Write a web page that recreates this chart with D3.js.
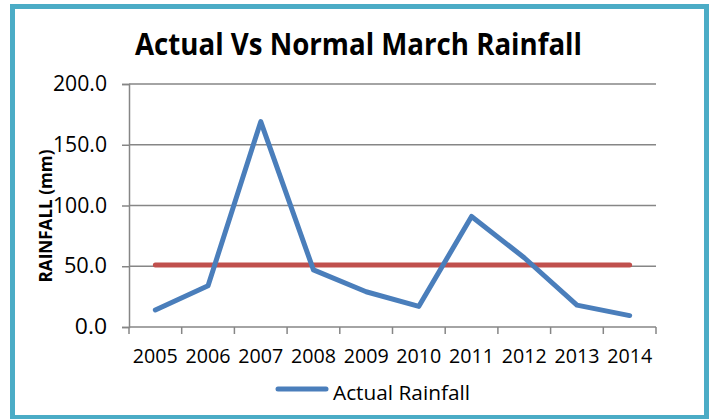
<!DOCTYPE html>
<html>
<head>
<meta charset="utf-8">
<script src="https://cdn.jsdelivr.net/npm/d3@7"></script>
<style>
  html, body { margin: 0; padding: 0; background: #fff; }
  svg { display: block; }
  text { font-family: "Open Sans", "Liberation Sans", sans-serif; fill: #000; }
</style>
</head>
<body>
<svg id="chart" width="712" height="419"></svg>
<script>
const years = ["2005","2006","2007","2008","2009","2010","2011","2012","2013","2014"];
const actualRainfall = [14, 34, 169, 47, 29, 17, 91, 57, 18, 9.4];
const normalRainfall = [51, 51, 51, 51, 51, 51, 51, 51, 51, 51];
const yTicks = [0, 50, 100, 150, 200];
const titleText = "Actual Vs Normal March Rainfall";
const yAxisTitle = "RAINFALL (mm)";
const legendLabel = "Actual Rainfall";

const svg = d3.select("#chart");

// outer border
svg.append("rect")
  .attr("x", 12.5).attr("y", 6.5)
  .attr("width", 694).attr("height", 411)
  .attr("fill", "#fff")
  .attr("stroke", "#4bacc6").attr("stroke-width", 5);

const x = d3.scaleBand().domain(years).range([129, 656]).padding(0);
const y = d3.scaleLinear().domain([0, 200]).range([327, 84]);
const grey = "#868686";

// gridlines
svg.append("g").selectAll("line").data(yTicks.filter(d => d > 0)).join("line")
  .attr("x1", 129).attr("x2", 656)
  .attr("y1", d => y(d)).attr("y2", d => y(d))
  .attr("stroke", grey).attr("stroke-width", 1.5);

// y axis
const yAxis = svg.append("g").attr("transform", "translate(129,0)")
  .call(d3.axisLeft(y).tickValues(yTicks).tickSize(7).tickPadding(15).tickFormat(d3.format(".1f")));
yAxis.selectAll("path.domain").attr("stroke", grey).attr("stroke-width", 1.5);
yAxis.selectAll(".tick line").attr("stroke", grey).attr("stroke-width", 1.5);
yAxis.selectAll(".tick text").attr("font-size", 21).attr("font-family", "Open Sans").attr("fill", "#000");
// match label widths to reference (≈10.8px per digit)
yAxis.selectAll(".tick text").each(function () {
  const t = d3.select(this);
  const s = t.text();
  const digits = s.replace(".", "").length;
  t.attr("textLength", digits * 10.9 + 10.4).attr("lengthAdjust", "spacingAndGlyphs");
});

// x axis
const xAxis = svg.append("g").attr("transform", "translate(0,327)")
  .call(d3.axisBottom(x).tickSize(0).tickPadding(22));
xAxis.select("path.domain").remove();
xAxis.selectAll(".tick line").remove();
xAxis.selectAll(".tick text").attr("font-size", 20).attr("font-family", "Open Sans").attr("fill", "#000")
  .attr("textLength", 45).attr("lengthAdjust", "spacingAndGlyphs");
// category boundary ticks
const bounds = years.map(d => x(d)).concat([x(years[years.length - 1]) + x.bandwidth()]);
svg.append("line").attr("x1", 129).attr("x2", 656).attr("y1", 327).attr("y2", 327)
  .attr("stroke", grey).attr("stroke-width", 1.5);
svg.append("g").selectAll("line").data(bounds).join("line")
  .attr("x1", d => d).attr("x2", d => d).attr("y1", 327).attr("y2", 334)
  .attr("stroke", grey).attr("stroke-width", 1.5);

const cx = d => x(d) + x.bandwidth() / 2;

// normal line
svg.append("path")
  .datum(years.map((d, i) => [cx(d), y(normalRainfall[i])]))
  .attr("d", d3.line())
  .attr("fill", "none").attr("stroke", "#c0504d").attr("stroke-width", 5)
  .attr("stroke-linecap", "round");

// actual line
svg.append("path")
  .datum(years.map((d, i) => [cx(d), y(actualRainfall[i])]))
  .attr("d", d3.line())
  .attr("fill", "none").attr("stroke", "#4a7ebb").attr("stroke-width", 5)
  .attr("stroke-linecap", "round").attr("stroke-linejoin", "round");

// title
svg.append("text")
  .attr("x", 358.5).attr("y", 54.5)
  .attr("text-anchor", "middle")
  .attr("font-size", 30).attr("font-weight", "bold")
  .attr("textLength", 447).attr("lengthAdjust", "spacingAndGlyphs")
  .text(titleText);

// y axis title
svg.append("text")
  .attr("transform", "translate(52,216) rotate(-90)")
  .attr("text-anchor", "middle")
  .attr("font-size", 18).attr("font-weight", "bold")
  .attr("textLength", 133).attr("lengthAdjust", "spacingAndGlyphs")
  .text(yAxisTitle);

// legend
svg.append("line")
  .attr("x1", 278).attr("x2", 326).attr("y1", 389).attr("y2", 389)
  .attr("stroke", "#4a7ebb").attr("stroke-width", 5).attr("stroke-linecap", "round");
svg.append("text")
  .attr("x", 333).attr("y", 400)
  .attr("font-size", 20)
  .attr("textLength", 137).attr("lengthAdjust", "spacingAndGlyphs")
  .text(legendLabel);
</script>
</body>
</html>
